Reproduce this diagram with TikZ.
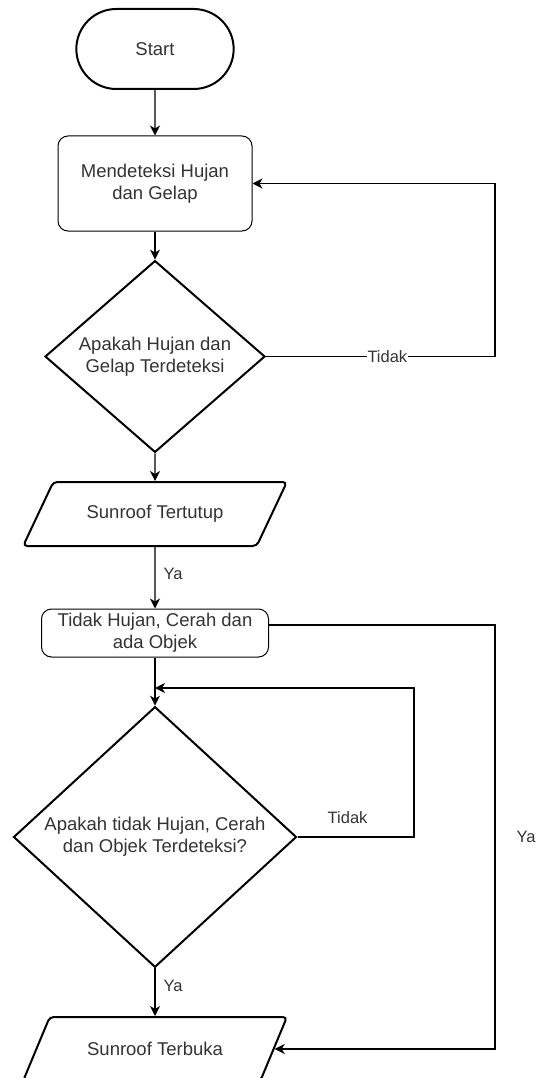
\documentclass[tikz,border=0pt]{standalone}
\usepackage{fontspec}
\setmainfont{Liberation Sans}
\usetikzlibrary{shapes.geometric, shapes.misc, arrows.meta, positioning}
\definecolor{fctext}{HTML}{333333}

\begin{document}
\begin{tikzpicture}[x=1pt, y=-1pt,
    txt/.style={text=fctext, font=\fontsize{18.5}{22.3}\selectfont, align=center},
    lbl/.style={text=fctext, font=\fontsize{16.5}{20}\selectfont, inner sep=1pt},
    term/.style={txt, draw, line width=2pt, rounded rectangle, minimum width=164pt, minimum height=80pt},
    procbox/.style={txt, draw, line width=1pt, rounded corners=10pt, inner sep=0pt},
    decision/.style={txt, draw, line width=2pt, diamond, inner sep=0pt},
    iobox/.style={txt, draw, line width=2pt, trapezium, trapezium left angle=48.3,
        trapezium right angle=131.7, trapezium stretches=true,
        minimum width=264pt, minimum height=64pt, rounded corners=4pt},
    flow/.style={-{Stealth[length=10pt, width=10pt, inset=3pt]}, line width=1.3pt}
]
    \useasboundingbox (0,0) rectangle (536,1078);
    \clip (0,0) rectangle (536,1078);

    % Deteksi hujan dan gelap
    \node[term] (start) at (155,49) {Start};
    \node[procbox, minimum width=194pt, minimum height=95pt] (detect) at (155,183.5) {Mendeteksi Hujan\\dan Gelap};
    \node[decision, minimum width=220pt, minimum height=157pt] (cek1) at (155,356.5) {Apakah Hujan dan\\Gelap Terdeteksi};
    \node[iobox] (tutup) at (155,514) {Sunroof Tertutup};

    % Deteksi cerah dan objek
    \node[procbox, minimum width=227pt, minimum height=48pt] (cerah) at (155,633) {Tidak Hujan, Cerah dan\\ada Objek};
    \node[decision, minimum width=283pt, minimum height=236pt] (cek2) at (155,837) {Apakah tidak Hujan, Cerah\\dan Objek Terdeteksi?};
    \node[iobox] (buka) at (155,1049) {Sunroof Terbuka};

    \coordinate (kanan) at (495,0);
    \coordinate (balik) at (414,0);
    \coordinate (gabung) at (155,688);
    \coordinate (cerahkanan) at ([yshift=8pt]cerah.east);

    % Alur utama
    \draw[flow] (start) -- (detect);
    \draw[flow] (detect) -- (cek1);
    \draw[flow] (cek1.east) -- node[lbl, fill=white, pos=0.53] {Tidak} (cek1.east -| kanan)
        -- (detect.east -| kanan) -- (detect.east);
    \draw[flow] (cek1) -- (tutup);
    \draw[flow] (tutup) -- node[lbl, right=7pt, pos=0.43] {Ya} (cerah);
    \draw[flow] (cerahkanan) -- (cerahkanan -| kanan)
        -- node[lbl, right=20pt] {Ya} (buka.east -| kanan) -- (buka.east);
    \draw[flow] (cerah) -- (cek2);
    \draw[flow] (cek2.east) -- node[lbl, above=12pt, pos=0.43] {Tidak} (cek2.east -| balik)
        -- (gabung -| balik) -- (gabung);
    \draw[flow] (cek2) -- node[lbl, right=7pt, pos=0.37] {Ya} (buka);
\end{tikzpicture}
\end{document}
